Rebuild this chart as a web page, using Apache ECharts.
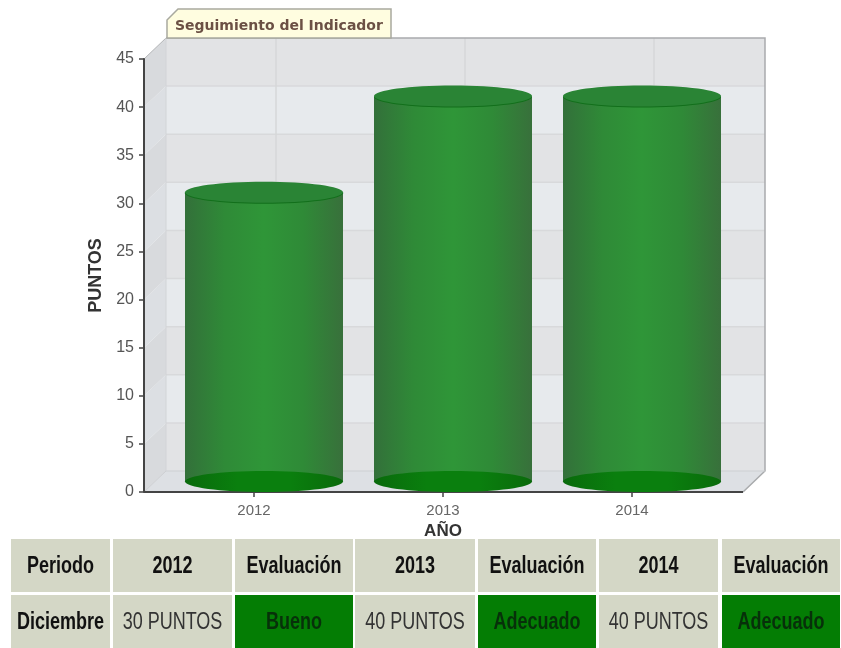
<!DOCTYPE html>
<html><head><meta charset="utf-8">
<style>html,body{margin:0;padding:0;background:#fff}#c{width:841px;height:648px}</style>
<script src="https://cdn.jsdelivr.net/npm/echarts@6/dist/echarts.min.js"></script>
</head><body><div id="c"></div>
<script>
const years = ['2012', '2013', '2014'];
const points = [30, 40, 40];
const ratings = ['Bueno', 'Adecuado', 'Adecuado'];
const yTicks = [0, 5, 10, 15, 20, 25, 30, 35, 40, 45];
const periodLabel = 'Periodo', monthLabel = 'Diciembre', evalLabel = 'Evaluación', unitLabel = ' PUNTOS';
const titleText = 'Seguimiento del Indicador';
const xName = 'AÑO', yName = 'PUNTOS';

const chart = echarts.init(document.getElementById('c'));
const DX = 22, DY = -21, EXT_L = 15.5, EXT_R = 16.5, RX = 79, RY = 10.5;

function wallItem(params, api) {
  const cs = params.coordSys;
  const L = cs.x - EXT_L, R = cs.x + cs.width + EXT_R;
  const y0 = api.coord([0, 0])[1], kids = [];
  for (let i = 0; i < yTicks.length - 1; i++) {
    const a = api.coord([0, yTicks[i]])[1], b = api.coord([0, yTicks[i + 1]])[1];
    const odd = i % 2 === 1;
    kids.push({type: 'rect', shape: {x: L + DX, y: b + DY, width: R - L, height: a - b},
      style: {fill: odd ? '#e7eaed' : '#e2e3e5'}});
    kids.push({type: 'polygon', shape: {points: [[L, a], [L + DX, a + DY], [L + DX, b + DY], [L, b]]},
      style: {fill: odd ? '#dcdfe3' : '#d8dadd'}});
  }
  kids.push({type: 'polygon', shape: {points: [[L, y0], [L + DX, y0 + DY], [R + DX, y0 + DY], [R, y0]]},
    style: {fill: '#dde0e4'}});
  yTicks.slice(1, -1).forEach(t => {
    const y = api.coord([0, t])[1];
    kids.push({type: 'line', shape: {x1: L + DX, y1: y + DY, x2: R + DX, y2: y + DY}, style: {stroke: '#d8d9db', lineWidth: 1.5}});
  });
  years.forEach((c, i) => {
    const x = api.coord([i, 0])[0] + DX;
    kids.push({type: 'line', shape: {x1: x, y1: y0 + DY, x2: x, y2: api.coord([0, 45])[1] + DY}, style: {stroke: '#d6d7d9', lineWidth: 1.5}});
  });
  const top = api.coord([0, 45])[1];
  kids.push({type: 'polyline', shape: {points: [[L + DX, top + DY], [R + DX, top + DY], [R + DX, y0 + DY], [R, y0]]},
    style: {fill: 'none', stroke: '#a9abad', lineWidth: 1.5}});
  kids.push({type: 'line', shape: {x1: L, y1: top, x2: L + DX, y2: top + DY}, style: {stroke: '#b4b6b8', lineWidth: 1}});
  kids.push({type: 'line', shape: {x1: L + DX, y1: y0 + DY, x2: R + DX, y2: y0 + DY}, style: {stroke: '#cdcfd2', lineWidth: 1}});
  kids.push({type: 'line', shape: {x1: L + DX, y1: y0 + DY, x2: L + DX, y2: top + DY}, style: {stroke: '#d2d4d7', lineWidth: 1}});
  kids.push({type: 'line', shape: {x1: L, y1: y0, x2: L + DX, y2: y0 + DY}, style: {stroke: '#cdcfd2', lineWidth: 1}});
  kids.push({type: 'line', shape: {x1: L, y1: y0, x2: R, y2: y0}, style: {stroke: '#444', lineWidth: 2}});
  return {type: 'group', children: kids};
}

function hGrad(stops) {
  return new echarts.graphic.LinearGradient(0, 0, 1, 0, stops.map((c, i) => ({offset: i / (stops.length - 1), color: c})));
}

function cylItem(params, api) {
  const idx = api.value(0), v = api.value(1);
  const p = api.coord([idx, v]), b = api.coord([idx, 0]);
  const cx = p[0] + DX / 2 - 1, ty = p[1] + DY / 2 + 0.5, by = b[1] + DY / 2;
  return {type: 'group', children: [
    {type: 'rect', shape: {x: cx - RX, y: ty, width: RX * 2, height: by - ty},
      style: {fill: hGrad(['#33703a', '#2f8a37', '#2f9638', '#2f8a37', '#38703b'])}},
    {type: 'ellipse', shape: {cx: cx, cy: by, rx: RX, ry: RY},
      style: {fill: hGrad(['#096a0c', '#0a7f0e', '#0a7f0e', '#0a6a0b'])}},
    {type: 'ellipse', shape: {cx: cx, cy: ty, rx: RX, ry: RY}, style: {fill: '#126f1b'}},
    {type: 'ellipse', shape: {cx: cx, cy: ty - 1, rx: RX, ry: RY}, style: {fill: '#2a8435'}}
  ]};
}

const colX = [[11, 110], [113, 232], [235, 353], [355, 475], [478, 596], [599, 718], [722, 840]];
const rowY = [[539, 592], [595, 648]];
const head = [periodLabel], body = [monthLabel], isRate = [false];
years.forEach((y, i) => {
  head.push(y, evalLabel);
  body.push(points[i] + unitLabel, ratings[i]);
  isRate.push(false, true);
});
const tableEls = [];
function cell(c, r, txt, fill, bold, color) {
  const [x0, x1] = colX[c], [y0, y1] = rowY[r];
  tableEls.push({type: 'rect', shape: {x: x0, y: y0, width: x1 - x0, height: y1 - y0}, style: {fill}, z: 1});
  tableEls.push({type: 'text', x: (x0 + x1) / 2, y: (y0 + y1) / 2 + 1, scaleX: 0.75, z: 2,
    style: {text: txt, x: 0, y: 0, align: 'center', verticalAlign: 'middle', fill: color,
      font: (bold ? 'bold ' : '') + '24px "Liberation Sans", Arial, sans-serif'}});
}
head.forEach((t, c) => cell(c, 0, t, '#d4d7c6', true, '#111'));
body.forEach((t, c) => cell(c, 1, t, isRate[c] ? '#047d04' : '#d4d7c6', c === 0 || isRate[c], isRate[c] ? '#07300a' : (c === 0 ? '#111' : '#333')));

const tab = {type: 'polygon', z: 5,
  shape: {points: [[167, 38], [167, 20], [178, 9], [391, 9], [391, 38]]},
  style: {fill: '#fffde0', stroke: '#a9a99f', lineWidth: 1.5}};

chart.setOption({
  animation: false,
  backgroundColor: '#fff',
  title: {text: titleText, left: 170, top: 14, z: 10,
    textStyle: {fontFamily: 'DejaVu Sans', fontSize: 14, fontWeight: 'bold', color: '#6b5044'}},
  grid: {left: 159.5, right: 114.5, top: 59, bottom: 156, containLabel: false},
  xAxis: {type: 'category', data: years, z: 2, name: xName, nameLocation: 'middle', nameGap: 30,
    nameTextStyle: {fontFamily: 'Liberation Sans', fontSize: 17, fontWeight: 'bold', color: '#333'},
    axisLine: {show: true, lineStyle: {color: '#444', width: 2}},
    axisTick: {show: true, alignWithLabel: true, length: 5, lineStyle: {color: '#444', width: 1.5}},
    axisLabel: {color: '#666', fontFamily: 'Liberation Sans', fontSize: 15, margin: 11},
    splitLine: {show: false}},
  yAxis: {type: 'value', min: 0, max: 45, interval: 5, offset: 15.5, z: 2, name: yName, nameLocation: 'middle', nameGap: 38,
    nameTextStyle: {fontFamily: 'Liberation Sans', fontSize: 18, fontWeight: 'bold', color: '#333'},
    axisLine: {show: true, lineStyle: {color: '#444', width: 2}},
    axisTick: {show: true, length: 5, lineStyle: {color: '#444', width: 1.5}},
    axisLabel: {color: '#555', fontFamily: 'Liberation Sans', fontSize: 16, margin: 10},
    splitLine: {show: false}},
  series: [
    {type: 'custom', z: 1, silent: true, clip: false, renderItem: wallItem, data: [[0, 0]], encode: {x: 0, y: 1}},
    {type: 'custom', z: 3, silent: true, clip: false, renderItem: cylItem,
      data: points.map((v, i) => [i, v]), encode: {x: 0, y: 1}}
  ],
  graphic: {elements: tableEls.concat([tab])}
});
</script></body></html>
